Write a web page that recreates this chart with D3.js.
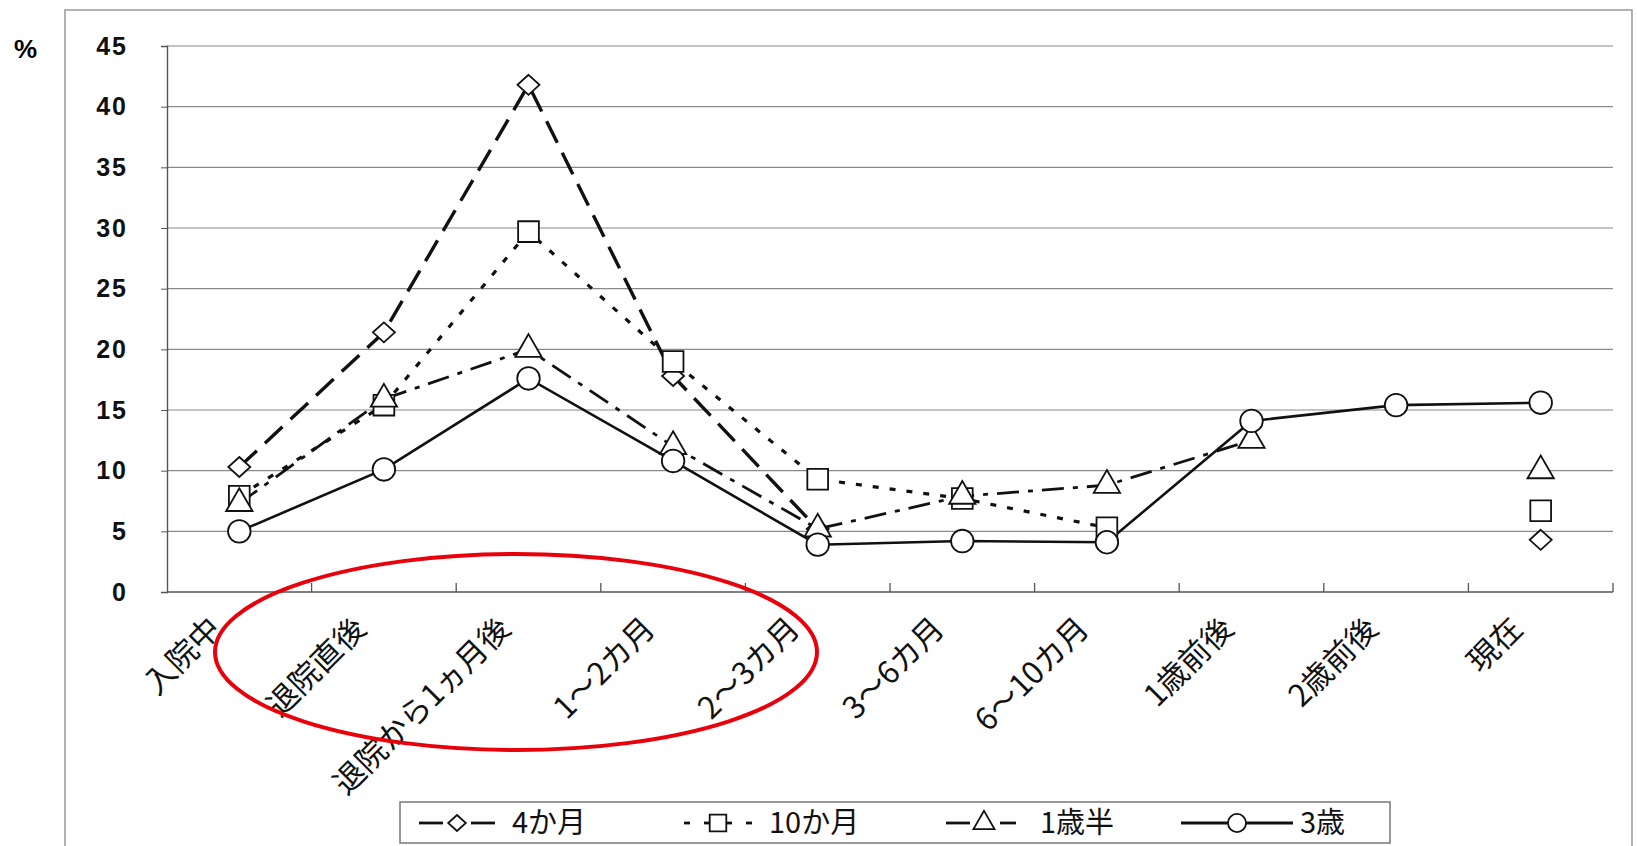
<!DOCTYPE html>
<html><head><meta charset="utf-8">
<script src="https://cdn.jsdelivr.net/npm/d3@7"></script>
<style>
body{margin:0;background:#fff;}
svg{display:block;}
</style></head>
<body><svg id="c" width="1637" height="846"></svg>
<script>
const categories = ["入院中","退院直後","退院から1ヵ月後","1～2カ月","2～3カ月","3～6カ月","6～10カ月","1歳前後","2歳前後","現在"];
const seriesNames = ["4か月","10か月","1歳半","3歳"];
const v4m  = [10.3, 21.4, 41.8, 17.8, 5.2, null, null, null, null, 4.3];
const v10m = [7.9, 15.4, 29.7, 19.0, 9.3, 7.7, 5.3, null, null, 6.7];
const v18m = [7.3, 15.9, 20.0, 12.0, 5.2, 7.9, 8.8, 12.5, null, 10.0];
const v3y  = [5.0, 10.1, 17.6, 10.8, 3.9, 4.2, 4.1, 14.1, 15.4, 15.6];
const yTicks = [0,5,10,15,20,25,30,35,40,45];

const series = [
  {name: seriesNames[0], values: v4m,  marker: "diamond",  dash: "24,11", width: 3.4},
  {name: seriesNames[1], values: v10m, marker: "square",   dash: "6,11", width: 3.2},
  {name: seriesNames[2], values: v18m, marker: "triangle", dash: "22,9,5,9", width: 2.8},
  {name: seriesNames[3], values: v3y,  marker: "circle",   dash: null, width: 2.6}
];

const svg = d3.select("#c");
const L = 167, R = 1613, T = 46, B = 592;
const x = d3.scaleBand().domain(categories).range([L, R]).padding(0);
const y = d3.scaleLinear().domain([0,45]).range([B, T]);

// frame
svg.append("path").attr("d", `M65,846 L65,10 L1632,10 L1632,846`)
  .attr("fill","none").attr("stroke","#999").attr("stroke-width",1.5);

// gridlines
svg.append("g").selectAll("line").data(yTicks.filter(d=>d>0)).join("line")
  .attr("x1", L).attr("x2", R).attr("y1", d=>y(d)).attr("y2", d=>y(d))
  .attr("stroke","#8a8a8a").attr("stroke-width",1.2);

// y axis
const yAxis = d3.axisLeft(y).tickValues(yTicks).tickSize(6).tickPadding(33);
const gy = svg.append("g").attr("transform",`translate(${L},0)`).call(yAxis);
gy.select(".domain").attr("stroke","#555").attr("stroke-width",1.4);
gy.selectAll(".tick line").attr("stroke","#555");
gy.selectAll("text").attr("font-family","'Liberation Sans', Arial, sans-serif")
  .attr("font-size",25).attr("font-weight","bold").attr("letter-spacing",2).attr("fill","#111");

// x axis
const gx = svg.append("g").attr("transform",`translate(0,${B})`);
gx.append("line").attr("x1",L).attr("x2",R).attr("stroke","#555").attr("stroke-width",1.4);
gx.selectAll("line.tk").data(categories.slice(1).concat(["__end"])).join("line").attr("class","tk")
  .attr("x1", (d,i)=> L + (i+1)*x.bandwidth()).attr("x2",(d,i)=> L + (i+1)*x.bandwidth())
  .attr("y1",0).attr("y2",-9).attr("stroke","#555").attr("stroke-width",1.3);
gx.selectAll("text").data(categories).join("text")
  .attr("transform", d=>`translate(${x(d)+x.bandwidth()/2-24},${31}) rotate(-45)`)
  .attr("text-anchor","end").attr("dy","0.35em")
  .attr("font-family","'Noto Sans CJK JP', sans-serif").attr("font-size",31).attr("fill","#111")
  .text(d=>d);

// % label
svg.append("text").attr("x",14).attr("y",58).attr("font-family","'Liberation Sans', Arial, sans-serif")
  .attr("font-size",26).attr("font-weight","bold").text("%");

const cx = i => x(categories[i]) + x.bandwidth()/2;
const line = d3.line().defined(d=>d!=null).x((d,i)=>cx(i)).y(d=>y(d));

function symbolPath(type, k){
  k = k || 1;
  if (type === "diamond") {
    const w = 11*k, h = 10*k;
    return `M0,${-h}L${w},0L0,${h}L${-w},0Z`;
  }
  const m = {square:d3.symbolSquare, triangle:d3.symbolTriangle, circle:d3.symbolCircle};
  const s = {square:430, triangle:300, circle:400};
  return d3.symbol().type(m[type]).size(s[type]*k*k)();
}

series.forEach(s=>{
  svg.append("path").datum(s.values).attr("d", line)
    .attr("fill","none").attr("stroke","#111").attr("stroke-width", s.width)
    .attr("stroke-dasharray", s.dash);
});
series.forEach(s=>{
  svg.append("g").selectAll("path").data(s.values.map((v,i)=>({v,i})).filter(d=>d.v!=null)).join("path")
    .attr("transform", d=>`translate(${cx(d.i)},${y(d.v)})`)
    .attr("d", symbolPath(s.marker))
    .attr("fill","#fff").attr("stroke","#111").attr("stroke-width",1.8);
});

// legend
const lg = svg.append("g");
lg.append("rect").attr("x",400).attr("y",802).attr("width",990).attr("height",41)
  .attr("fill","#fff").attr("stroke","#777").attr("stroke-width",1.5);
const legendPos = [{m:457,t:512},{m:718,t:769},{m:984,t:1040},{m:1237,t:1300}];
const legendSeg = [[[-38,-14],[14,38]], [[-34,-28],[-14,-8],[8,14],[28,34]], [[-38,-14],[16,32]], [[-56,56]]];
series.forEach((s,i)=>{
  const p = legendPos[i];
  legendSeg[i].forEach(seg=>{
    lg.append("line").attr("x1",p.m+seg[0]).attr("x2",p.m+seg[1]).attr("y1",823).attr("y2",823)
      .attr("stroke","#111").attr("stroke-width",2.8);
  });
  lg.append("path").attr("transform",`translate(${p.m},823)`)
    .attr("d", symbolPath(s.marker, 0.8)).attr("fill","#fff").attr("stroke","#111").attr("stroke-width",1.8);
  lg.append("text").attr("x",p.t).attr("y",823).attr("dy","0.36em")
    .attr("font-family","'Noto Sans CJK JP', sans-serif").attr("font-size",29).attr("fill","#111")
    .text(s.name);
});

// red annotation ellipse
svg.append("ellipse").attr("cx",516).attr("cy",652).attr("rx",301).attr("ry",98)
  .attr("fill","none").attr("stroke","#e8000b").attr("stroke-width",4);
</script></body></html>
